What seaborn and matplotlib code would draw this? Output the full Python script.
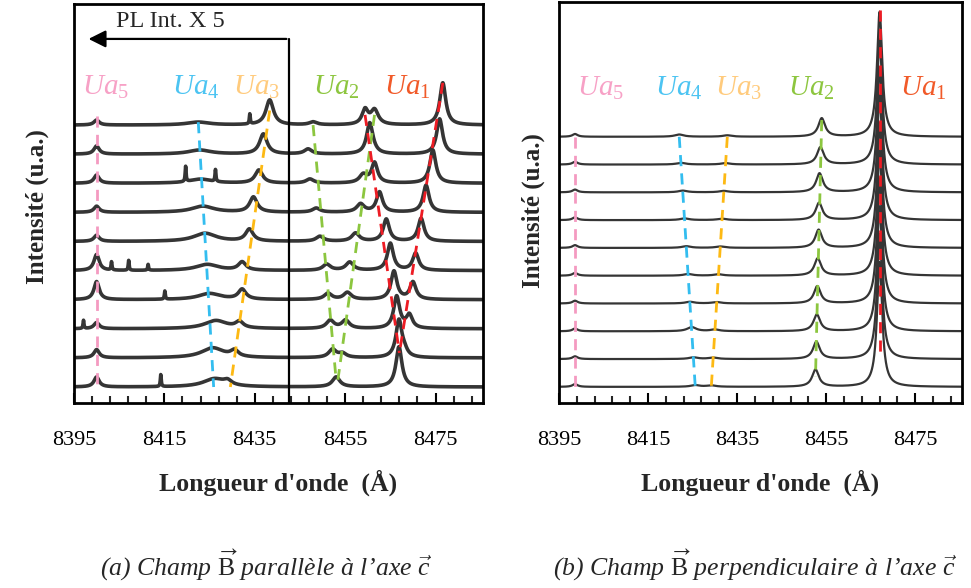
import numpy as np
import pandas as pd
import matplotlib
matplotlib.use('Agg')
import matplotlib.pyplot as plt
from matplotlib.ticker import FixedLocator
import seaborn as sns

# --- Donnees (trace 0 = en bas, trace 9 = en haut) ---
# (a) champ B parallele a c  (intensites en unites de decalage vertical)
a_ua1_low_pos = [8466.9, 8466.9, 8466.4, 8465.8, 8465.0, 8464.1, 8462.6, 8461.5, 8460.4, 8459.4]
a_ua1_low_h = [1.38, 1.28, 1.10, 0.97, 0.93, 0.76, 0.69, 0.69, 0.93, 0.50]
a_ua1_high_pos = [8466.9, 8468.1, 8469.2, 8470.0, 8470.6, 8471.8, 8472.9, 8474.4, 8475.9, 8476.6]
a_ua1_high_h = [0.0, 0.17, 0.45, 0.59, 0.59, 0.79, 0.93, 1.14, 1.21, 1.45]
a_ua2_low_pos = [8453.0, 8452.2, 8451.7, 8451.2, 8450.9, 8449.4, 8448.6, 8447.2, 8446.8, 8447.9]
a_ua2_low_h = [0.34, 0.28, 0.28, 0.21, 0.21, 0.17, 0.14, 0.14, 0.17, 0.10]
a_ua2_high_pos = [8453.0, 8454.4, 8455.1, 8455.5, 8456.0, 8457.3, 8458.4, 8459.0, 8460.8, 8461.5]
a_ua2_high_h = [0.0, 0.14, 0.28, 0.24, 0.28, 0.28, 0.28, 0.28, 0.17, 0.50]
a_ua3_pos = [8429.0, 8430.5, 8431.6, 8432.2, 8432.2, 8433.8, 8434.7, 8435.9, 8436.9, 8438.3]
a_ua3_h = [0.14, 0.21, 0.21, 0.34, 0.28, 0.41, 0.52, 0.45, 0.69, 0.86]
a_ua4_pos = [8426.1, 8425.7, 8426.4, 8425.0, 8424.5, 8424.0, 8423.5, 8423.0, 8422.8, 8422.5]
a_ua4_h = [0.28, 0.34, 0.28, 0.21, 0.21, 0.28, 0.21, 0.14, 0.14, 0.10]
a_ua5_pos = [8400.0] * 10
a_ua5_h = [0.34, 0.28, 0.21, 0.62, 0.55, 0.21, 0.21, 0.28, 0.28, 0.17]
# pics fins parasites (trace, position, hauteur)
a_spike_trace = [7, 7, 4, 4, 4, 3, 0, 9, 2]
a_spike_pos = [8419.7, 8426.3, 8403.3, 8407.1, 8411.4, 8415.1, 8414.2, 8433.9, 8397.1]
a_spike_h = [0.52, 0.41, 0.28, 0.34, 0.20, 0.28, 0.41, 0.34, 0.28]

# (b) champ B perpendiculaire a c
b_ua1_pos = [8467.0, 8467.0, 8467.0, 8467.0, 8467.0, 8467.0, 8467.0, 8467.0, 8467.0, 8467.0]
b_ua1_h = [4.5, 4.5, 4.5, 4.5, 4.5, 4.5, 4.5, 4.5, 4.5, 4.5]
b_ua2_pos = [8452.6, 8452.8, 8452.9, 8453.0, 8453.1, 8453.3, 8453.4, 8453.5, 8453.7, 8454.0]
b_ua2_h = [0.62, 0.62, 0.60, 0.62, 0.62, 0.65, 0.62, 0.68, 0.62, 0.66]
b_ua3_pos = [8429.2, 8429.6, 8430.0, 8430.4, 8430.8, 8431.2, 8431.6, 8432.0, 8432.4, 8432.8]
b_ua3_h = [0.05, 0.05, 0.06, 0.05, 0.05, 0.05, 0.05, 0.05, 0.05, 0.05]
b_ua4_pos = [8425.6, 8425.2, 8424.8, 8424.4, 8424.0, 8423.6, 8423.2, 8422.8, 8422.4, 8422.0]
b_ua4_h = [0.06, 0.06, 0.15, 0.06, 0.06, 0.06, 0.06, 0.06, 0.06, 0.08]
b_ua5_pos = [8398.6] * 10
b_ua5_h = [0.10, 0.10, 0.10, 0.10, 0.10, 0.10, 0.10, 0.10, 0.10, 0.10]

n_traces = 10
x_min, x_max = 8395, 8485.5
major_ticks = [8395, 8415, 8435, 8455, 8475]

# lignes pointillees (lambda haut, lambda bas, y haut, y bas)
a_guides = {
    'ua5': ([8400.0, 8400.0], [9.3, 0.1], '#F49AC1'),
    'ua4': ([8422.5, 8425.9], [9.1, 0.0], '#33BDEF'),
    'ua3': ([8438.3, 8429.6], [9.5, 0.0], '#FDB913'),
    'ua2a': ([8447.9, 8453.0], [9.0, 0.25], '#8CC63F'),
    'ua2b': ([8461.5, 8453.4], [9.35, 0.25], '#8CC63F'),
    'ua1a': ([8459.4, 8467.0], [9.35, 1.17], '#ED1C24'),
    'ua1b': ([8476.6, 8467.0], [10.45, 1.17], '#ED1C24'),
}
b_guides = {
    'ua5': ([8398.6, 8398.6], [9.0, 0.0], '#F49AC1'),
    'ua4': ([8422.0, 8425.6], [9.0, 0.0], '#33BDEF'),
    'ua3': ([8432.8, 8429.2], [9.0, 0.0], '#FDB913'),
    'ua2': ([8454.0, 8452.6], [9.6, 0.36], '#8CC63F'),
    'ua1': ([8467.0, 8467.0], [13.56, 1.22], '#ED1C24'),
}

labels = [r'$Ua_{\mathit{5}}$', r'$Ua_{\mathit{4}}$', r'$Ua_{\mathit{3}}$',
          r'$Ua_{\mathit{2}}$', r'$Ua_{\mathit{1}}$']
label_colors = ['#F7A1C6', '#4CC4F2', '#FFCB7D', '#8DC63F', '#F15A29']
a_label_x = [8396.8, 8416.7, 8430.1, 8447.8, 8463.5]
b_label_x = [8399.0, 8416.6, 8430.0, 8446.5, 8471.6]


def lorentz(x, x0, h, g):
    return h * g ** 2 / ((x - x0) ** 2 + g ** 2)


wl = np.linspace(x_min, x_max, 2500)

rows = []
for i in range(n_traces):
    y = np.full_like(wl, float(i))
    y += lorentz(wl, a_ua1_low_pos[i], a_ua1_low_h[i], 0.8)
    y += lorentz(wl, a_ua1_high_pos[i], a_ua1_high_h[i], 0.8)
    y += lorentz(wl, a_ua2_low_pos[i], a_ua2_low_h[i], 1.0)
    y += lorentz(wl, a_ua2_high_pos[i], a_ua2_high_h[i], 1.0)
    y += lorentz(wl, a_ua3_pos[i], a_ua3_h[i], 1.0)
    y += lorentz(wl, a_ua4_pos[i], a_ua4_h[i], 3.0)
    y += lorentz(wl, a_ua5_pos[i], a_ua5_h[i], 0.7)
    for t, p, h in zip(a_spike_trace, a_spike_pos, a_spike_h):
        if t == i:
            y += lorentz(wl, p, h, 0.12)
    rows.append(pd.DataFrame({'panel': 'a', 'trace': i, 'wl': wl, 'intensite': y}))

    y = np.full_like(wl, float(i))
    y += lorentz(wl, b_ua1_pos[i], b_ua1_h[i], 0.7)
    y += lorentz(wl, b_ua2_pos[i], b_ua2_h[i], 0.9)
    y += lorentz(wl, b_ua3_pos[i], b_ua3_h[i], 1.2)
    y += lorentz(wl, b_ua4_pos[i], b_ua4_h[i], 1.2)
    y += lorentz(wl, b_ua5_pos[i], b_ua5_h[i], 0.7)
    rows.append(pd.DataFrame({'panel': 'b', 'trace': i, 'wl': wl, 'intensite': y}))

df = pd.concat(rows, ignore_index=True)

sns.set_theme(style='white')
plt.rcParams['font.family'] = ['Liberation Serif', 'DejaVu Serif']
plt.rcParams['mathtext.fontset'] = 'custom'
plt.rcParams['mathtext.rm'] = 'Liberation Serif'
plt.rcParams['mathtext.it'] = 'Liberation Serif:italic'
plt.rcParams['mathtext.bf'] = 'Liberation Serif:bold'

fig = plt.figure(figsize=(9.71, 5.88), dpi=100)
W, H = 971, 588
ax_a = fig.add_axes([74 / W, 1 - 403 / H, 409 / W, 399 / H])
ax_b = fig.add_axes([559 / W, 1 - 403 / H, 403 / W, 401 / H])

line_col = '#353535'
sns.lineplot(data=df[df['panel'] == 'a'], x='wl', y='intensite', units='trace',
             estimator=None, color=line_col, linewidth=2.6, ax=ax_a, sort=False)
sns.lineplot(data=df[df['panel'] == 'b'], x='wl', y='intensite', units='trace',
             estimator=None, color=line_col, linewidth=1.6, ax=ax_b, sort=False)

for ax, guides in [(ax_a, a_guides), (ax_b, b_guides)]:
    for key, (xs, ys, c) in guides.items():
        ax.plot(xs, ys, color=c, lw=2.0, dashes=(4, 2.6), zorder=5)

ax_a.set_ylim(-0.55, 13.16)
ax_b.set_ylim(-0.58, 13.85)

for ax in (ax_a, ax_b):
    ax.set_xlim(x_min, x_max)
    ax.set_xlabel('')
    ax.set_ylabel('')
    ax.set_yticks([])
    ax.xaxis.set_major_locator(FixedLocator(major_ticks))
    ax.xaxis.set_minor_locator(FixedLocator(np.arange(8399, 8485, 4)))
    ax.tick_params(axis='x', which='major', direction='in', length=7, width=1.5,
                   bottom=True, pad=20, labelsize=16, colors='black')
    ax.tick_params(axis='x', which='minor', direction='in', length=5, width=1.5, bottom=True)
    for s in ax.spines.values():
        s.set_visible(True)
        s.set_color('black')
        s.set_linewidth(2.0)

# etiquettes Ua
for lx, lab, c in zip(a_label_x, labels, label_colors):
    ax_a.text(lx, 10.3, lab, color=c, fontsize=21, ha='left', va='center')
for lx, lab, c in zip(b_label_x, labels, label_colors):
    ax_b.text(lx, 10.75, lab, color=c, fontsize=21, ha='left', va='center')

# zone x5
ax_a.plot([8442.5, 8442.5], [-0.55, 11.96], color='black', lw=1.6, clip_on=False)
ax_a.annotate('', xy=(8397.6, 11.96), xytext=(8442.5 + 0.12, 11.96),
              arrowprops=dict(arrowstyle='-|>', color='black', lw=1.6, mutation_scale=26))
ax_a.text(8416.4, 12.55, 'PL Int. X 5', fontsize=17.5, ha='center', va='center')

fig.text(37 / W, 1 - 207 / H, 'Intensité (u.a.)', rotation=90, fontsize=18,
         fontweight='bold', ha='center', va='center')
fig.text(533 / W, 1 - 211 / H, 'Intensité (u.a.)', rotation=90, fontsize=18,
         fontweight='bold', ha='center', va='center')
fig.text(278 / W, 1 - 483 / H, "Longueur d'onde  (Å)", fontsize=18.5,
         fontweight='bold', ha='center', va='center')
fig.text(760 / W, 1 - 483 / H, "Longueur d'onde  (Å)", fontsize=18.5,
         fontweight='bold', ha='center', va='center')
fig.text(266 / W, 1 - 565 / H,
         r"(a) Champ $\overrightarrow{\mathrm{B}}$ parallèle à l’axe $\vec{c}$",
         fontsize=18.5, style='italic', ha='center', va='center')
fig.text(755 / W, 1 - 565 / H,
         r"(b) Champ $\overrightarrow{\mathrm{B}}$ perpendiculaire à l’axe $\vec{c}$",
         fontsize=18.5, style='italic', ha='center', va='center')

fig.savefig('out.png', dpi=100, facecolor='white')
